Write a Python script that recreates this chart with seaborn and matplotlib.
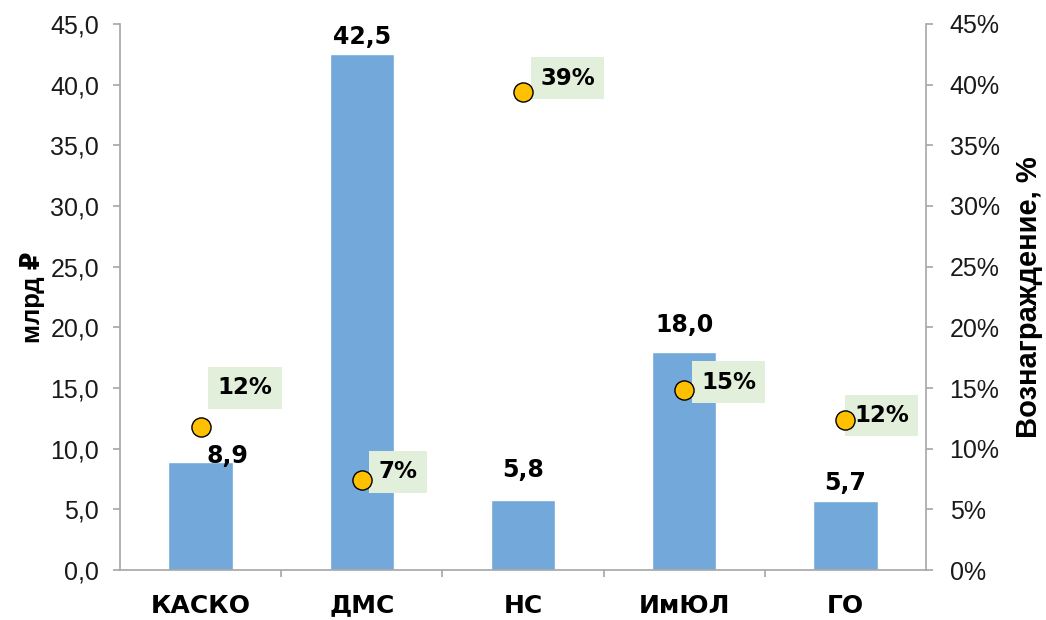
import matplotlib
matplotlib.use("Agg")
import matplotlib.pyplot as plt
from matplotlib.ticker import FixedLocator, FuncFormatter, MultipleLocator
import seaborn as sns
import pandas as pd

categories = ["КАСКО", "ДМС", "НС", "ИмЮЛ", "ГО"]
premiums = [8.9, 42.5, 5.8, 18.0, 5.7]          # млрд ₽
reward_pct = [11.8, 7.4, 39.4, 14.8, 12.4]       # dot positions, %
reward_labels = ["12%", "7%", "39%", "15%", "12%"]

df = pd.DataFrame({"cat": categories, "prem": premiums, "pct": reward_pct})

sns.set_theme(style="white")
plt.rcParams["font.family"] = ["Liberation Sans", "DejaVu Sans"]

fig = plt.figure(figsize=(10.46, 6.2), dpi=100)
ax = fig.add_axes([120 / 1046, 50 / 620, 806 / 1046, 546 / 620])

sns.barplot(data=df, x="cat", y="prem", order=categories, color="#72A9DA",
            saturation=1, width=0.4, ax=ax)
ax.set_xlim(-0.5, 4.5)
ax.set_ylim(0, 45)
ax.yaxis.set_major_locator(MultipleLocator(5))
ax.yaxis.set_major_formatter(FuncFormatter(lambda v, p: f"{v:.1f}".replace(".", ",")))

ax2 = ax.twinx()
sns.scatterplot(x=list(range(len(categories))), y=df["pct"], ax=ax2, s=190,
                color="#FFC000", edgecolor="black", linewidth=1.0, zorder=5, legend=False)
ax2.set_ylim(0, 45)
ax2.yaxis.set_major_locator(MultipleLocator(5))
ax2.yaxis.set_major_formatter(FuncFormatter(lambda v, p: f"{int(round(v))}%"))
ax2.set_xlim(-0.5, 4.5)

grey = "#A6A6A6"
for a in (ax, ax2):
    a.spines["top"].set_visible(False)
    for s in ("left", "right", "bottom"):
        a.spines[s].set_color(grey)
        a.spines[s].set_linewidth(1.2)
ax.spines["right"].set_visible(False)
ax2.spines["left"].set_visible(False)
ax2.spines["bottom"].set_visible(False)

ax.tick_params(axis="y", which="major", direction="out", length=5, width=1.2,
               color=grey, labelsize=18, labelcolor="#1a1a1a", left=True, pad=10)
ax2.tick_params(axis="y", which="major", direction="out", length=5, width=1.2,
                color=grey, labelsize=18, labelcolor="#1a1a1a", right=True, pad=12)

# x-axis: category labels, tick marks at boundaries
ax.set_xticks(range(len(categories)))
ax.set_xticklabels(categories, fontsize=18, fontweight="bold", color="black",
                   family=["DejaVu Sans"])
ax.xaxis.set_minor_locator(FixedLocator([0.5, 1.5, 2.5, 3.5]))
ax.tick_params(axis="x", which="major", length=0, pad=17)
ax.tick_params(axis="x", which="minor", direction="out", length=5, width=1.2,
               color=grey, bottom=True)

ax.set_xlabel("")
ax.set_ylabel("млрд ₽", fontsize=18.5, fontweight="bold", color="black", labelpad=4)
ax2.set_ylabel("Вознаграждение, %", fontsize=21, fontweight="bold", color="black",
               labelpad=11)

# bar value labels (offsets in points, to label centre)
bar_offsets = [(19, 4), (0, 12.5), (0, 21), (0, 19), (0, 13)]
for i, (v, off) in enumerate(zip(premiums, bar_offsets)):
    ax.annotate(f"{v:.1f}".replace(".", ","), (i, v), xytext=off,
                textcoords="offset points", ha="center", va="center",
                fontsize=17, fontweight="bold", color="black",
                family=["DejaVu Sans"])

# percent labels with green boxes
pct_offsets = [(32, 28), (26, 6), (32, 10), (32, 6), (26, 3)]
for i, (v, lab, off) in enumerate(zip(reward_pct, reward_labels, pct_offsets)):
    ax2.annotate(lab, (i, v), xytext=off, textcoords="offset points",
                 ha="center", va="center", fontsize=16.5, fontweight="bold",
                 color="black", family=["DejaVu Sans"], zorder=4,
                 bbox=dict(boxstyle="square,pad=0.4", facecolor="#E2EFDA",
                           edgecolor="none"))

fig.savefig("out.png", dpi=100)
